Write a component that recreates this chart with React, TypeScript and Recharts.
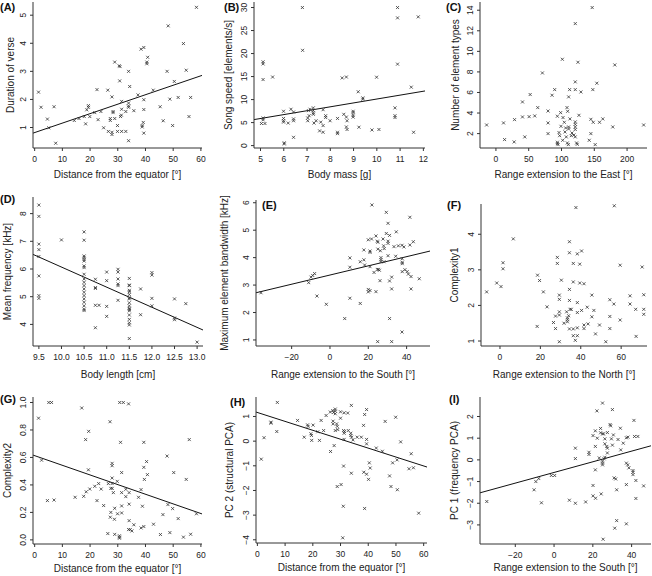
import React from 'react';
import { ScatterChart, Scatter, XAxis, YAxis, ReferenceLine } from 'recharts';

// ---------- DATA ----------
const distanceTicks = [0, 10, 20, 30, 40, 50, 60];
const southTicks = [-20, 0, 20, 40];

const aPoints: [number, number][] = [[58.4,5.28],[48.2,4.62],[53.7,3.99],[39.4,3.85],[38.4,3.79],[40.8,3.5],[40.5,3.33],[40.5,3.27],[28.9,3.33],[30.5,3.2],[30.8,3.17],[33.9,3.0],[47.8,3.0],[54.7,3.04],[30.7,2.66],[34.3,2.46],[50.4,2.64],[1.4,2.26],[22.5,2.35],[26.4,2.33],[42.8,2.33],[37.3,2.16],[27.9,2.09],[48.8,2.01],[51.8,2.07],[56.3,2.07],[39.4,1.99],[2.3,1.72],[7.0,1.74],[19.4,1.78],[19.4,1.72],[18.8,1.63],[31.4,1.93],[33.9,1.87],[33.9,1.77],[33.9,1.72],[31.4,1.65],[35.8,1.6],[39.4,1.64],[45.3,1.74],[21.7,1.53],[23.9,1.57],[28.3,1.57],[28.3,1.53],[32.9,1.57],[17.9,1.39],[19.9,1.39],[16.0,1.32],[14.3,1.25],[22.9,1.28],[27.3,1.32],[27.3,1.25],[28.9,1.32],[31.0,1.39],[31.3,1.44],[4.6,1.3],[18.4,1.13],[5.1,0.99],[24.9,0.99],[29.9,1.07],[38.8,1.07],[38.8,1.02],[46.4,1.24],[49.8,1.07],[55.7,1.39],[26.6,0.86],[27.9,0.83],[27.9,0.75],[29.9,0.86],[31.4,0.86],[32.9,0.86],[39.4,0.8],[7.6,0.44],[33.9,0.53],[39.2,1.18]];
const aFit = [0.82, 0.0337]; // intercept, slope
const aYTicks = [1, 2, 3, 4, 5];

const bPoints: [number, number][] = [[6.8,30],[10.89,30],[10.89,27.75],[11.78,27.97],[6.81,20.7],[5.11,18.2],[5.11,17.75],[10.89,17.7],[5.11,14.35],[5.52,14.9],[8.51,14.7],[8.69,14.9],[9.99,14.86],[11.48,12.7],[9.2,11.7],[9.4,10.36],[9.4,10.07],[10.78,8.2],[10.78,6.5],[10.78,6.1],[5.99,7.46],[6.31,7.9],[6.42,7.3],[7.06,7.6],[7.13,7.9],[7.27,8.2],[7.27,7.6],[7.27,7.1],[7.27,6.8],[7.69,7.8],[7.8,6.5],[7.8,6.1],[7.09,6.5],[7.03,6.0],[7.03,5.4],[5.11,6.0],[5.11,5.6],[5.99,5.9],[5.99,5.4],[5.99,5.1],[6.42,5.8],[6.42,5.4],[6.19,4.9],[5.04,4.8],[5.19,4.8],[7.3,4.9],[7.59,5.1],[7.99,5.4],[8.31,5.9],[8.58,6.8],[8.69,6.2],[8.72,5.4],[8.98,6.2],[8.98,6.6],[8.98,7.46],[8.98,7.17],[7.69,4.35],[7.54,3.2],[7.69,2.9],[8.31,2.9],[8.31,2.6],[8.69,4.06],[8.72,3.5],[9.23,4.0],[9.79,3.4],[10.09,3.5],[11.58,2.9],[6.42,1.8],[6.02,0.6],[6.02,0.36],[7.39,5.4]];
const bFit = [1.66, 0.846];
const bXTicks = [5, 6, 7, 8, 9, 10, 11, 12];
const bYTicks = [0, 5, 10, 15, 20, 25, 30];

const cPoints: [number, number][] = [[146.8,14.26],[121,12.7],[101.3,9.23],[125.1,8.94],[181.3,8.68],[70.9,7.9],[121,7.03],[153.9,6.9],[89.6,6.28],[112.4,6.28],[121,6.28],[129.6,6.05],[147.8,6.28],[52.2,5.8],[85.6,5.73],[110.9,5.57],[40.5,5.08],[63.8,4.53],[108.4,4.53],[109.4,4.17],[79.5,4.2],[98.7,4.04],[40.5,3.62],[50.6,3.65],[59.2,3.72],[28.4,3.36],[79.5,3.04],[93.7,3.69],[102.3,3.56],[112.9,3.43],[104.3,3.1],[126.6,3.78],[-14.2,2.84],[11.6,3.04],[99.2,2.71],[106.3,2.55],[110.9,2.65],[110.9,2.45],[121,3.14],[121,2.9],[121,2.65],[121,2.4],[144.8,3.39],[148.4,3.1],[158,3.1],[163,3.43],[178.2,2.65],[225.3,2.84],[79.5,2.0],[96.2,2.1],[97.2,1.8],[114.9,1.8],[119,1.87],[107.3,1.68],[121,1.68],[144.8,2.0],[44,1.68],[13.2,1.42],[27.8,1.19],[101.8,1.35],[108.9,1.09],[142.3,1.35],[93.7,1.16],[93.7,1.03],[94.7,0.93],[110.4,0.93],[123,1.09],[124,0.96],[151.4,0.93],[116,2.06],[105.3,2.16]];
const cXTicks = [0, 50, 100, 150, 200];
const cYTicks = [2, 4, 6, 8, 10, 12, 14];

const dPoints: [number, number][] = [[9.5,8.31],[9.5,7.9],[9.5,6.9],[9.5,6.7],[9.5,6.45],[9.5,5.75],[9.5,5.04],[9.5,4.94],[10.0,7.05],[10.5,7.34],[10.5,7.04],[10.5,6.47],[10.5,6.42],[10.5,6.35],[10.5,6.29],[10.5,6.11],[10.5,6.05],[10.5,5.81],[10.5,5.64],[10.5,5.52],[10.5,5.4],[10.5,5.28],[10.5,5.16],[10.5,5.04],[10.5,4.92],[10.5,4.8],[10.5,4.67],[10.5,4.55],[10.5,4.5],[10.75,5.63],[10.75,5.33],[10.75,5.3],[10.75,4.69],[10.75,3.88],[10.83,4.69],[11.0,5.89],[11.0,5.58],[11.0,4.65],[11.0,4.29],[11.25,5.99],[11.25,5.89],[11.25,5.64],[11.25,5.46],[11.25,5.4],[11.25,4.87],[11.5,5.66],[11.5,5.42],[11.5,5.4],[11.5,5.23],[11.5,5.18],[11.5,5.08],[11.5,4.96],[11.5,4.92],[11.5,4.78],[11.5,4.67],[11.5,4.58],[11.5,4.54],[11.5,4.49],[11.5,4.34],[11.5,4.18],[11.5,4.06],[11.5,3.98],[11.5,3.49],[11.75,5.28],[11.75,4.35],[12.0,5.87],[12.0,5.78],[12.0,4.94],[12.0,4.67],[12.5,4.92],[12.5,4.23],[12.5,4.17],[12.75,4.75],[13.0,3.36]];
const dFit = [13.33, -0.726];
const dXTicks = [9.5, 10.0, 10.5, 11.0, 11.5, 12.0, 12.5, 13.0];
const dYTicks = [4, 5, 6, 7, 8];

const ePoints: [number, number][] = [[-36,2.72],[-11.1,3.09],[-9.9,3.29],[-9,3.35],[-8,3.42],[-6.8,2.6],[-1.9,2.3],[10.4,2.52],[10.4,3.65],[10.4,3.99],[7.7,1.78],[15.8,2.33],[15.8,3.85],[17.7,3.92],[17.7,4.28],[18.1,3.73],[20,4.65],[20.9,4.24],[20.9,4.19],[21.7,4.68],[21.9,5.92],[20,2.84],[20,2.75],[20.9,2.8],[20.9,3.67],[23,3.46],[24,4.79],[24,2.76],[24.7,4.6],[25,4.56],[25,4.31],[24.7,3.57],[25.3,3.57],[25.8,3.54],[26.3,4.25],[26.1,3.16],[26.6,4.0],[26.6,3.92],[26.6,3.85],[28,4.43],[27.7,4.68],[28.2,3.85],[29.4,4.88],[29.4,5.65],[30.3,5.25],[30.3,4.6],[30.3,4.52],[30.3,4.07],[31.1,4.81],[31.1,3.15],[31.1,1.78],[32.2,3.29],[32.2,2.86],[32.2,0.94],[24.9,0.94],[33.4,4.4],[34.6,4.94],[34.3,4.05],[35.7,4.43],[37.6,4.45],[37.7,3.96],[37.7,3.83],[37.7,3.78],[37.7,3.49],[39.1,3.56],[38.6,4.39],[40.3,3.49],[40.9,3.4],[41.7,5.47],[41.7,4.46],[42.3,3.31],[42.3,2.86],[43.5,4.58],[46.6,3.23],[37.6,1.29],[28.3,4.33]];
const eFit = [3.366, 0.01674];
const eYTicks = [1, 2, 3, 4, 5, 6];

const fPoints: [number, number][] = [[-6.6,2.38],[-1.6,2.63],[0.5,2.53],[1.5,3.2],[1.5,3.03],[6.6,3.87],[18.6,2.85],[19.6,2.7],[21.5,2.38],[18.4,1.41],[23.3,1.96],[26.5,1.52],[27.5,1.7],[27.5,1.35],[28.4,3.35],[28.4,3.18],[29.4,2.29],[29.4,2.17],[29.4,1.82],[29.4,1.73],[29.4,0.98],[30.4,2.71],[31.7,1.5],[33,1.82],[33.4,1.65],[33.4,1.6],[33.4,1.54],[34,1.71],[34.4,3.79],[34.4,3.48],[34.4,2.45],[34.4,2.14],[34.7,1.89],[35.3,1.89],[34.4,1.34],[36.3,3.18],[36.3,2.66],[36.3,1.34],[36.3,1.15],[37.3,1.02],[37.6,4.75],[38.3,3.45],[38.3,2.08],[38.3,1.8],[38.3,1.15],[38.3,1.37],[39.5,3.16],[39.5,2.63],[40.4,3.53],[40.4,1.86],[41.6,2.61],[41.6,1.35],[41.6,1.45],[43.2,1.95],[43.6,1.48],[45.5,2.29],[45.5,1.68],[46.5,1.86],[47.3,1.2],[49.3,1.45],[52.4,0.98],[54.4,2.16],[54.4,1.69],[54.4,1.35],[56.4,2.04],[56.6,4.8],[59.5,3.13],[59.5,1.59],[64.4,2.27],[64.4,2.04],[67.2,1.89],[67.4,1.13],[70.4,3.08],[71.2,2.3],[71.2,1.89],[71.2,1.75]];
const fXTicks = [0, 20, 40, 60];
const fYTicks = [1, 2, 3, 4];

const gPoints: [number, number][] = [[1.4,0.886],[5.1,1.0],[6.1,1.0],[2.5,0.58],[4.6,0.286],[7.0,0.29],[14.6,0.31],[17,0.96],[19.5,0.79],[18.4,0.73],[19.4,0.51],[17.7,0.317],[18.6,0.35],[19.9,0.37],[21.7,0.39],[23.1,0.41],[24,0.37],[22.5,0.286],[24.9,0.25],[27.2,0.86],[27.95,0.557],[27.95,0.54],[27.95,0.45],[27.95,0.41],[26.6,0.41],[29.8,0.426],[27.5,0.375],[28.0,0.375],[28.4,0.344],[27.5,0.2],[27.3,0.165],[28.9,0.23],[28.8,0.15],[26.4,0.046],[28.9,0.04],[29.9,0.19],[30.7,1.0],[32,1.0],[33.9,0.99],[31,0.71],[31.4,0.49],[31.4,0.344],[31.4,0.247],[31.4,0.196],[30.6,0.03],[30.6,0.02],[30.6,0.012],[32.9,0.315],[32.9,0.368],[34.1,0.344],[34.1,0.26],[34.1,0.14],[33.9,0.075],[34.5,0.075],[35.1,0.065],[35.8,0.11],[37.5,0.31],[38.4,0.366],[38.9,0.245],[38.4,0.087],[39.4,0.097],[39.4,0.71],[39.4,0.528],[40.4,0.57],[39.6,0.44],[40.7,0.475],[42.9,0.114],[45.4,0.039],[46.3,0.184],[47.8,0.61],[48.1,0.257],[48.8,0.053],[50.2,0.49],[49.8,0.228],[51.8,0.155],[53.7,0.02],[54.7,0.44],[55.8,0.73],[56.3,0.041],[58.4,0.19]];
const gFit = [0.613, -0.00702];
const gYTicks = [0, 0.2, 0.4, 0.6, 0.8, 1.0];

const hPoints: [number, number][] = [[1.4,-0.73],[2.4,0.14],[4.9,0.77],[4.9,0.73],[7.2,1.57],[7,0.39],[14.5,0.84],[16.9,0.16],[18.1,0.66],[18.3,0.6],[19.3,0.3],[19.5,0.23],[20.1,0.65],[19.6,0.03],[21.8,0.38],[22.4,0.03],[23,0.84],[23.9,0.43],[24.8,1.04],[26.3,1.18],[26.4,-0.42],[27.2,1.24],[27.5,1.16],[27.3,0.81],[27.3,0.7],[28.1,1.3],[28.1,1.22],[28.1,1.11],[28.1,0.43],[27.7,-0.18],[28.6,0.7],[28.8,0.6],[29,0.47],[30,0.93],[30,1.19],[31.1,0.43],[31.3,0.32],[31.4,0.39],[31.3,0.07],[31.3,1.15],[32.6,1.14],[32.8,0.43],[33.9,1.45],[33.7,0.32],[33.7,0.23],[34,0.16],[34.5,0.05],[36,0.16],[37.5,0.16],[38.3,0.64],[38.7,1.08],[39.4,1.28],[39.4,0.07],[39.4,-0.11],[42.9,-0.28],[45.1,-0.41],[46.1,0.8],[49.9,0.97],[51.7,-0.03],[48.8,-0.88],[50.4,-0.76],[55.5,-0.51],[54.7,-1.12],[56.3,-1.08],[40.4,-0.88],[40.7,-1.09],[40.1,-1.55],[31.1,-1.01],[33.9,-1.3],[38.4,-1.26],[39.4,-1.34],[47.7,-1.41],[48.2,-1.84],[30.2,-1.76],[28.8,-1.84],[50.5,-1.97],[31,-2.64],[38.7,-2.73],[58.2,-2.92],[30.8,-3.92]];
const hFit = [1.162, -0.03614];
const hYTicks = [-4, -3, -2, -1, 0, 1];

const iPoints: [number, number][] = [[-34.7,-1.92],[-10.3,-1.38],[-9.4,-1.0],[-7.9,-0.86],[-6.5,-1.98],[-1.4,-0.72],[0.3,-0.72],[7.9,-1.86],[11,-2.0],[11,0.54],[11,0.06],[16.3,-1.94],[18,0.35],[18,0.25],[20.1,-1.18],[20.1,-1.66],[20.1,1.12],[21.3,1.34],[21.3,0.62],[21.3,-0.46],[21.4,-1.77],[22.1,2.26],[22.3,1.0],[23.3,0.09],[24,1.45],[24,1.25],[24.3,-1.57],[25,2.62],[25,1.2],[25.5,1.2],[25,-0.06],[25,-0.15],[25,-0.23],[25.3,-3.66],[25.8,0.05],[26.2,0.12],[26.2,0.97],[26.2,0.74],[27.2,0.62],[27.5,0.54],[27.5,1.26],[27.5,0.32],[28.9,1.63],[29.2,1.57],[29.6,0.97],[30.1,2.32],[30.1,0.68],[30.6,1.15],[31,-0.83],[31.8,-0.88],[32.3,-1.38],[31.3,-3.15],[32.3,-2.8],[33,0.94],[34.2,1.46],[34.4,0.46],[35.7,0.77],[37.3,1.02],[38.1,1.05],[37.3,-0.15],[38,-0.23],[38.6,-0.37],[40.7,-0.49],[40.7,-0.57],[40.7,-0.68],[37.3,-1.14],[37.3,-2.95],[41.2,1.82],[41.5,1.08],[43.2,1.08],[42.2,-0.95],[42.2,-1.78],[46.2,-1.2]];
const iFit = [-0.58, 0.0246];
const iYTicks = [-3, -2, -1, 0, 1, 2];

// ---------- LAYOUT ----------
const FONT = '"Liberation Sans", Arial, Helvetica, sans-serif';
const INK = '#222';
const TICK_FS = 8.5;

type Panel = {
  label: string; points: [number, number][]; fit?: number[];
  xTicks: number[]; yTicks: number[]; xDomain: [number, number]; yDomain: [number, number];
  box: [number, number, number, number]; // L,T,R,B
  xTitle: string; yTitle: string; yTitleX: number; xTitleY: number;
  labelX: number; labelY: number; xDec?: number; yDec?: number;
};

const panels: Panel[] = [
  { label: '(A)', points: aPoints, fit: aFit, xTicks: distanceTicks, yTicks: aYTicks, xDomain: [-0.6, 60.4], yDomain: [0.27, 5.47], box: [33, 2, 202, 148], xTitle: 'Distance from the equator [°]', yTitle: 'Duration of verse', yTitleX: 10, xTitleY: 174, labelX: 0, labelY: 7 },
  { label: '(B)', points: bPoints, fit: bFit, xTicks: bXTicks, yTicks: bYTicks, xDomain: [4.72, 12.07], yDomain: [-0.52, 31.2], box: [254, 2, 425, 148], xTitle: 'Body mass [g]', yTitle: 'Song speed [elements/s]', yTitleX: 228, xTitleY: 174, labelX: 224, labelY: 7 },
  { label: '(C)', points: cPoints, xTicks: cXTicks, yTicks: cYTicks, xDomain: [-24.3, 230.4], yDomain: [0.6, 14.8], box: [480, 2, 647, 148], xTitle: 'Range extension to the East [°]', yTitle: 'Number of element types', yTitleX: 455, xTitleY: 174, labelX: 446, labelY: 7 },
  { label: '(D)', points: dPoints, fit: dFit, xTicks: dXTicks, yTicks: dYTicks, xDomain: [9.37, 13.13], yDomain: [3.22, 8.6], box: [33, 197, 203, 346], xTitle: 'Body length [cm]', yTitle: 'Mean frequency [kHz]', yTitleX: 7, xTitleY: 374, labelX: 0, labelY: 199, xDec: 1 },
  { label: '(E)', points: ePoints, fit: eFit, xTicks: southTicks, yTicks: eYTicks, xDomain: [-38.6, 52.2], yDomain: [0.78, 6.1], box: [256, 200, 430, 346], xTitle: 'Range extension to the South [°]', yTitle: 'Maximum element bandwidth [kHz]', yTitleX: 224, xTitleY: 374, labelX: 262, labelY: 205 },
  { label: '(F)', points: fPoints, xTicks: fXTicks, yTicks: fYTicks, xDomain: [-9.4, 72.8], yDomain: [0.86, 4.85], box: [481, 204, 647, 346], xTitle: 'Range extension to the North [°]', yTitle: 'Complexity1', yTitleX: 454, xTitleY: 374, labelX: 447, labelY: 205 },
  { label: '(G)', points: gPoints, fit: gFit, xTicks: distanceTicks, yTicks: gYTicks, xDomain: [-0.6, 60.4], yDomain: [-0.03, 1.04], box: [33, 397, 202, 544], xTitle: 'Distance from the equator [°]', yTitle: 'Complexity2', yTitleX: 7, xTitleY: 568, labelX: 0, labelY: 399, yDec: 1 },
  { label: '(H)', points: hPoints, fit: hFit, xTicks: distanceTicks, yTicks: hYTicks, xDomain: [-0.5, 61.2], yDomain: [-4.13, 1.79], box: [256, 397, 427, 543], xTitle: 'Distance from the equator [°]', yTitle: 'PC 2 (structural PCA)', yTitleX: 229, xTitleY: 567, labelX: 230, labelY: 402 },
  { label: '(I)', points: iPoints, fit: iFit, xTicks: southTicks, yTicks: iYTicks, xDomain: [-38.2, 50], yDomain: [-3.88, 2.9], box: [480, 397, 651, 544], xTitle: 'Range extension to the South [°]', yTitle: 'PC 1 (frequency PCA)', yTitleX: 454, xTitleY: 567, labelX: 449, labelY: 399 },
];

const fmt = (v: number, dec?: number) => {
  const s = dec ? v.toFixed(dec) : String(v);
  return s.replace('-', '\u2212');
};

const XMark = (props: any) => {
  const { cx, cy } = props;
  if (cx == null || cy == null) return null;
  const s = 1.5;
  return (
    <path d={`M${cx - s},${cy - s}L${cx + s},${cy + s}M${cx - s},${cy + s}L${cx + s},${cy - s}`} stroke="#333" strokeWidth={0.8} fill="none" />
  );
};

const makeYTick = (dec?: number) => (props: any) => {
  const { x, y, payload } = props;
  return (
    <text x={x} y={y} transform={`rotate(-90 ${x} ${y})`} textAnchor="middle" fontSize={TICK_FS} fill={INK} fontFamily={FONT}>
      {fmt(payload.value, dec)}
    </text>
  );
};

const PAD_L = 40, PAD_T = 10, PAD_R = 10, PAD_B = 40;

const PanelChart = ({ p }: { p: Panel }) => {
  const [L, T, R, B] = p.box;
  const w = R - L + PAD_L + PAD_R;
  const h = B - T + PAD_T + PAD_B;
  const data = p.points.map(([x, y]) => ({ x, y }));
  const seg = p.fit
    ? [
        { x: p.xDomain[0], y: p.fit[0] + p.fit[1] * p.xDomain[0] },
        { x: p.xDomain[1], y: p.fit[0] + p.fit[1] * p.xDomain[1] },
      ]
    : null;
  return (
    <div style={{ position: 'absolute', left: L - PAD_L, top: T - PAD_T }}>
      <ScatterChart width={w} height={h} margin={{ top: PAD_T, right: PAD_R, bottom: 0, left: 0 }}>
        <XAxis type="number" dataKey="x" domain={p.xDomain} allowDataOverflow ticks={p.xTicks} interval={0}
          height={PAD_B} tickSize={3} tickMargin={4.5} stroke="#333" tickFormatter={(v: number) => fmt(v, p.xDec)}
          tick={{ fontSize: TICK_FS, fill: INK, fontFamily: FONT }} />
        <YAxis type="number" dataKey="y" domain={p.yDomain} allowDataOverflow ticks={p.yTicks} interval={0}
          width={PAD_L} tickSize={3} tickMargin={3.5} stroke="#333" tick={makeYTick(p.yDec)} />
        <Scatter data={data} shape={<XMark />} isAnimationActive={false} />
        {seg && <ReferenceLine segment={seg} stroke="#111" strokeWidth={1} ifOverflow="visible" />}
      </ScatterChart>
    </div>
  );
};

export default function App() {
  return (
    <div style={{ position: 'absolute', left: 0, top: 0, width: 652, height: 576, background: '#fff', overflow: 'hidden' }}>
      {panels.map((p) => <PanelChart key={p.label} p={p} />)}
      <svg width={652} height={576} style={{ position: 'absolute', left: 0, top: 0, pointerEvents: 'none' }}>
        {panels.map((p) => {
          const [L, T, R, B] = p.box;
          const cy = (T + B) / 2;
          return (
            <g key={p.label}>
              <text x={p.labelX} y={p.labelY} dominantBaseline="central" fontSize={11} fontWeight="bold" fill="#111" fontFamily={FONT}>{p.label}</text>
              <text x={(L + R) / 2} y={p.xTitleY} dominantBaseline="central" textAnchor="middle" fontSize={10} fill={INK} fontFamily={FONT}>{p.xTitle}</text>
              <text x={p.yTitleX} y={cy} dominantBaseline="central" textAnchor="middle" fontSize={10} fill={INK} fontFamily={FONT}
                transform={`rotate(-90 ${p.yTitleX} ${cy})`}>{p.yTitle}</text>
            </g>
          );
        })}
      </svg>
    </div>
  );
}
